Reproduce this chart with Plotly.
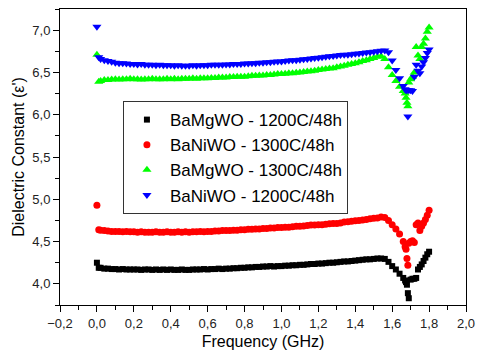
import plotly.graph_objects as go

# Frequency grid (GHz) shared by all four series
freq = [0.00, 0.01,
        0.02, 0.04, 0.06, 0.08, 0.10, 0.12, 0.14, 0.16, 0.18, 0.20,
        0.22, 0.24, 0.26, 0.28, 0.30, 0.32, 0.34, 0.36, 0.38, 0.40,
        0.42, 0.44, 0.46, 0.48, 0.50, 0.52, 0.54, 0.56, 0.58, 0.60,
        0.62, 0.64, 0.66, 0.68, 0.70, 0.72, 0.74, 0.76, 0.78, 0.80,
        0.82, 0.84, 0.86, 0.88, 0.90, 0.92, 0.94, 0.96, 0.98, 1.00,
        1.02, 1.04, 1.06, 1.08, 1.10, 1.12, 1.14, 1.16, 1.18, 1.20,
        1.22, 1.24, 1.26, 1.28, 1.30, 1.32, 1.34, 1.36, 1.38, 1.40,
        1.42, 1.44, 1.46, 1.48, 1.50, 1.52, 1.54, 1.56, 1.58, 1.60,
        1.62, 1.64, 1.66,
        1.67, 1.675, 1.68, 1.685, 1.69, 1.70, 1.71, 1.72, 1.73, 1.74,
        1.75, 1.76, 1.77, 1.78, 1.79, 1.80]

bamgwo_1200 = [4.25, 4.19,
    4.19, 4.18, 4.18, 4.175, 4.175, 4.17, 4.175, 4.17, 4.17, 4.17,
    4.17, 4.165, 4.17, 4.17, 4.165, 4.17, 4.165, 4.17, 4.165, 4.17,
    4.165, 4.165, 4.17, 4.165, 4.165, 4.17, 4.17, 4.17, 4.175, 4.17,
    4.175, 4.175, 4.18, 4.175, 4.18, 4.18, 4.185, 4.185, 4.19, 4.19,
    4.195, 4.195, 4.20, 4.20, 4.205, 4.205, 4.21, 4.205, 4.21, 4.21,
    4.215, 4.215, 4.22, 4.22, 4.225, 4.225, 4.23, 4.235, 4.235, 4.24,
    4.24, 4.245, 4.25, 4.25, 4.255, 4.26, 4.265, 4.265, 4.27, 4.275,
    4.28, 4.285, 4.29, 4.29, 4.295, 4.30, 4.30, 4.295, 4.26, 4.21,
    4.17, 4.12, 4.07,
    4.04, 4.02, 3.99, 3.89, 3.83, 4.05, 4.06, 4.06, 4.07, 4.17,
    4.20, 4.23, 4.27, 4.31, 4.35, 4.38]

baniwo_1300 = [4.93, 4.64,
    4.635, 4.63, 4.625, 4.62, 4.62, 4.62, 4.615, 4.62, 4.615, 4.615,
    4.61, 4.615, 4.61, 4.61, 4.61, 4.615, 4.61, 4.61, 4.615, 4.61,
    4.61, 4.615, 4.61, 4.615, 4.61, 4.615, 4.615, 4.62, 4.615, 4.62,
    4.62, 4.625, 4.625, 4.63, 4.63, 4.63, 4.635, 4.635, 4.64, 4.64,
    4.645, 4.645, 4.65, 4.65, 4.655, 4.655, 4.66, 4.66, 4.665, 4.665,
    4.67, 4.67, 4.675, 4.68, 4.68, 4.685, 4.69, 4.695, 4.695, 4.70,
    4.70, 4.705, 4.71, 4.715, 4.715, 4.72, 4.73, 4.735, 4.74, 4.745,
    4.75, 4.755, 4.76, 4.77, 4.775, 4.78, 4.79, 4.785, 4.75, 4.70,
    4.65, 4.59, 4.50,
    4.44, 4.41, 4.30, 4.22, 4.48, 4.50, 4.51, 4.49, 4.70, 4.72,
    4.63, 4.68, 4.72, 4.76, 4.81, 4.87]

bamgwo_1300 = [6.71, 6.39,
    6.40, 6.41, 6.41, 6.415, 6.42, 6.415, 6.42, 6.42, 6.425, 6.42,
    6.42, 6.415, 6.42, 6.42, 6.425, 6.42, 6.42, 6.42, 6.425, 6.42,
    6.425, 6.42, 6.425, 6.425, 6.425, 6.43, 6.425, 6.43, 6.43, 6.43,
    6.435, 6.435, 6.44, 6.44, 6.44, 6.445, 6.445, 6.45, 6.45, 6.45,
    6.455, 6.46, 6.46, 6.465, 6.465, 6.47, 6.47, 6.475, 6.48, 6.48,
    6.485, 6.49, 6.49, 6.495, 6.50, 6.505, 6.51, 6.515, 6.52, 6.53,
    6.535, 6.54, 6.545, 6.55, 6.56, 6.57, 6.58, 6.59, 6.60, 6.61,
    6.62, 6.635, 6.645, 6.66, 6.67, 6.685, 6.69, 6.66, 6.56, 6.47,
    6.40, 6.33, 6.28,
    6.25, 6.20, 6.14, 6.10, 6.38, 6.42, 6.45, 6.50, 6.80, 6.70,
    6.66, 6.80, 6.84, 6.90, 6.98, 7.03]

baniwo_1200 = [7.04, 6.68,
    6.66, 6.645, 6.635, 6.625, 6.615, 6.61, 6.61, 6.605, 6.60, 6.60,
    6.595, 6.60, 6.59, 6.59, 6.59, 6.585, 6.59, 6.585, 6.585, 6.585,
    6.58, 6.585, 6.58, 6.58, 6.58, 6.585, 6.58, 6.585, 6.585, 6.585,
    6.59, 6.59, 6.59, 6.59, 6.595, 6.595, 6.60, 6.60, 6.60, 6.605,
    6.605, 6.61, 6.61, 6.615, 6.615, 6.62, 6.62, 6.625, 6.63, 6.63,
    6.635, 6.64, 6.645, 6.645, 6.65, 6.655, 6.66, 6.665, 6.67, 6.675,
    6.68, 6.685, 6.69, 6.695, 6.70, 6.705, 6.71, 6.71, 6.715, 6.72,
    6.725, 6.73, 6.735, 6.74, 6.745, 6.75, 6.755, 6.76, 6.74, 6.64,
    6.53, 6.43, 6.34,
    6.30, 6.29, 6.29, 5.98, 6.29, 6.29, 6.28, 6.45, 6.59, 6.52,
    6.49, 6.57, 6.62, 6.67, 6.73, 6.77]

series_names = ["BaMgWO - 1200C/48h", "BaNiWO - 1300C/48h",
                "BaMgWO - 1300C/48h", "BaNiWO - 1200C/48h"]
series_values = [bamgwo_1200, baniwo_1300, bamgwo_1300, baniwo_1200]
colors = ["#000000", "#ff0000", "#00ff00", "#0000ff"]
symbols = ["square", "circle", "triangle-up", "triangle-down"]
sizes = [6, 7, 8, 8]

FONT = "Liberation Sans, Arial, sans-serif"

fig = go.Figure()
for name, vals, c, s, sz in zip(series_names, series_values, colors, symbols, sizes):
    fig.add_trace(go.Scatter(
        x=freq, y=vals, mode="markers", name=name,
        marker=dict(color=c, symbol=s, size=sz, line=dict(width=0)),
    ))

axis_common = dict(
    showline=True, linecolor="black", linewidth=1, mirror=True,
    ticks="outside", ticklen=6, tickwidth=1, tickcolor="black",
    showgrid=False, zeroline=False, automargin=False,
    tickfont=dict(family=FONT, size=13, color="#222222"),
)

fig.update_layout(
    width=478, height=360,
    margin=dict(l=60, r=12, t=9, b=55),
    paper_bgcolor="white", plot_bgcolor="white",
    separators=", ",
    font=dict(family=FONT, color="black"),
    showlegend=True,
    legend=dict(
        x=0.155, y=0.689, xanchor="left", yanchor="top",
        bgcolor="white", bordercolor="#333333", borderwidth=1,
        font=dict(family=FONT, size=17, color="black"),
        itemwidth=36,
    ),
    xaxis=dict(
        range=[-0.2, 2.0], dtick=0.2, tick0=0, tickformat=".1f",
        minor=dict(dtick=0.1, ticks="outside", ticklen=4, tickcolor="black"),
        title=dict(text="Frequency (GHz)", font=dict(family=FONT, size=16), standoff=6),
        **axis_common,
    ),
    yaxis=dict(
        range=[3.75, 7.25], dtick=0.5, tick0=0, tickformat=".1f",
        minor=dict(dtick=0.25, ticks="outside", ticklen=4, tickcolor="black"),
        title=dict(text="Dielectric Constant (ε')", font=dict(family=FONT, size=16), standoff=3),
        **axis_common,
    ),
)

fig.write_html("out.html", config={"displayModeBar": False},
               post_script="document.body.style.margin='0px';")
